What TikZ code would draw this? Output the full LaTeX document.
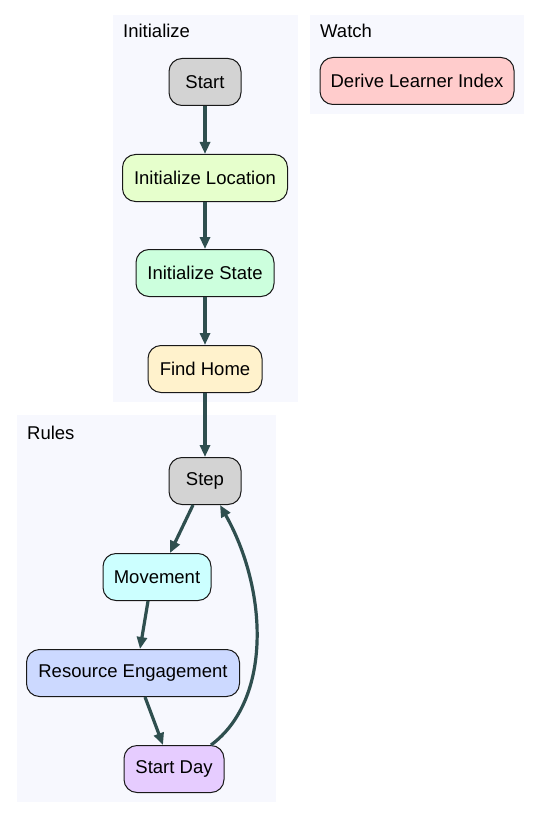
\documentclass[tikz,border=0pt]{standalone}
\usepackage{fontspec}
\setmainfont{Liberation Sans}
\usetikzlibrary{arrows.meta}
\definecolor{clusterbg}{HTML}{F7F8FE}
\definecolor{edgec}{HTML}{2F4F4F}
\definecolor{cgray}{HTML}{D3D3D3}
\definecolor{cloc}{HTML}{E6FFCC}
\definecolor{cstate}{HTML}{CCFFDD}
\definecolor{chome}{HTML}{FFF2CC}
\definecolor{cderive}{HTML}{FFCCCC}
\definecolor{cmove}{HTML}{CCFFFF}
\definecolor{cres}{HTML}{CCD9FF}
\definecolor{cday}{HTML}{E6CCFF}
\tikzset{
  box/.style={draw=black!90, line width=1pt, rounded corners=13pt, minimum height=47pt, inner sep=0pt, font=\fontsize{18.5}{22}\selectfont, text=black},
  edge/.style={draw=edgec, line width=3.2pt, -{Triangle[length=12pt,width=10pt]}},
  cluster/.style={fill=clusterbg, draw=none},
  clabel/.style={anchor=base west, font=\fontsize{18.5}{22}\selectfont, inner sep=0pt}
}
\begin{document}
\begin{tikzpicture}[x=1pt,y=-1pt]
\useasboundingbox (0,0) rectangle (541,821);
\fill[white] (0,0) rectangle (541,821);
% clusters
\fill[cluster] (113,15) rectangle (298,402);
\fill[cluster] (310,15) rectangle (524,114);
\fill[cluster] (17,415) rectangle (276,802);
\node[clabel] (linit) at (123,38) {Initialize};
\node[clabel] (lwatch) at (320,38) {Watch};
\node[clabel] (lrules) at (27,439) {Rules};
% nodes
\node[box, fill=cgray, minimum width=72pt] (start) at (205,82) {Start};
\node[box, fill=cloc, minimum width=165pt] (loc) at (205,178) {Initialize Location};
\node[box, fill=cstate, minimum width=138pt] (state) at (205,273) {Initialize State};
\node[box, fill=chome, minimum width=114pt] (home) at (205,369) {Find Home};
\node[box, fill=cderive, minimum width=194pt] (derive) at (417,81) {Derive Learner Index};
\node[box, fill=cgray, minimum width=72pt] (step) at (205,481) {Step};
\node[box, fill=cmove, minimum width=108pt] (move) at (157,577) {Movement};
\node[box, fill=cres, minimum width=213pt] (res) at (133,673) {Resource Engagement};
\node[box, fill=cday, minimum width=100pt] (day) at (174,769) {Start Day};
% edges
\draw[edge] (start) -- (loc);
\draw[edge] (loc) -- (state);
\draw[edge] (state) -- (home);
\draw[edge] (home) -- (step);
\draw[edge] (step.south -| 193,0) -- (move.north -| 170,0);
\draw[edge] (move.south -| 148,0) -- (res.north -| 140,0);
\draw[edge] (res.south -| 145,0) -- (day.north -| 163,0);
\draw[edge] (day.north -| 211,0) .. controls (272,700) and (268,590) .. (step.south -| 220,0);
\end{tikzpicture}
\end{document}
